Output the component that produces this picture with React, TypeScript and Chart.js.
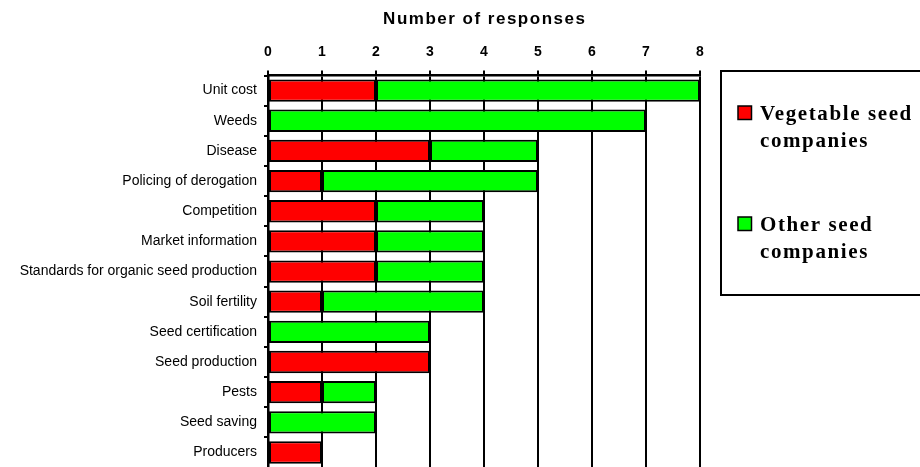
import React, { useEffect, useRef } from "react";
import { Chart, registerables } from "chart.js";

Chart.register(...registerables);

const categories = [
  "Unit cost",
  "Weeds",
  "Disease",
  "Policing of derogation",
  "Competition",
  "Market information",
  "Standards for organic seed production",
  "Soil fertility",
  "Seed certification",
  "Seed production",
  "Pests",
  "Seed saving",
  "Producers",
];
const vegetableSeed = [2, 0, 3, 1, 2, 2, 2, 1, 0, 3, 1, 0, 1];
const otherSeed = [6, 7, 2, 4, 2, 2, 2, 3, 3, 0, 1, 2, 0];
const seriesLabels = ["Vegetable seed companies", "Other seed companies"];
const seriesColors = ["#ff0000", "#00ff00"];
const axisMin = 0;
const axisMax = 8;
const axisTitle = "Number of responses";

const SANS = '"Liberation Sans", Arial, sans-serif';
const SERIF = '"Liberation Serif", "Times New Roman", serif';

const titlePlugin = {
  id: "topTitle",
  afterDraw(chart: any) {
    const ctx = chart.ctx as CanvasRenderingContext2D;
    const { left, right } = chart.chartArea;
    ctx.save();
    ctx.font = `bold 17px ${SANS}`;
    (ctx as any).letterSpacing = "1.5px";
    ctx.fillStyle = "#000";
    ctx.textAlign = "center";
    ctx.textBaseline = "alphabetic";
    ctx.fillText(axisTitle, (left + right) / 2 + 0.75, 24);
    ctx.restore();
  },
};

const boxLegendPlugin = {
  id: "boxLegend",
  afterDraw(chart: any) {
    const ctx = chart.ctx as CanvasRenderingContext2D;
    const boxLeft = 721;
    const boxTop = 71;
    const boxBottom = 295;
    ctx.save();
    ctx.lineWidth = 2;
    ctx.strokeStyle = "#000";
    ctx.strokeRect(boxLeft, boxTop, 400, boxBottom - boxTop);
    ctx.font = `bold 21px ${SERIF}`;
    (ctx as any).letterSpacing = "1.6px";
    ctx.fillStyle = "#000";
    ctx.textAlign = "left";
    ctx.textBaseline = "alphabetic";
    const textX = 760;
    const maxW = 160;
    const firstBaselines = [119.5, 230.5];
    const lineH = 27.5;
    chart.data.datasets.forEach((ds: any, i: number) => {
      const words = String(ds.label).split(" ");
      const lines: string[] = [];
      let cur = "";
      words.forEach((w) => {
        const test = cur ? cur + " " + w : w;
        if (cur && ctx.measureText(test).width > maxW) {
          lines.push(cur);
          cur = w;
        } else cur = test;
      });
      if (cur) lines.push(cur);
      const by = firstBaselines[i];
      ctx.fillStyle = ds.backgroundColor;
      ctx.fillRect(738, by - 13.5, 13.5, 13.5);
      ctx.lineWidth = 1.5;
      ctx.strokeStyle = "#000";
      ctx.strokeRect(738, by - 13.5, 13.5, 13.5);
      ctx.fillStyle = "#000";
      lines.forEach((ln, k) => ctx.fillText(ln, textX, by + k * lineH));
    });
    ctx.restore();
  },
};

export default function App() {
  const ref = useRef<HTMLCanvasElement | null>(null);
  useEffect(() => {
    if (!ref.current) return;
    const chart = new Chart(ref.current, {
      type: "bar",
      data: {
        labels: categories,
        datasets: [
          {
            label: seriesLabels[0],
            data: vegetableSeed,
            backgroundColor: seriesColors[0],
            borderColor: "#000",
            borderWidth: 2,
            borderSkipped: false,
            barPercentage: 0.74,
            categoryPercentage: 1,
          },
          {
            label: seriesLabels[1],
            data: otherSeed,
            backgroundColor: seriesColors[1],
            borderColor: "#000",
            borderWidth: 2,
            borderSkipped: false,
            barPercentage: 0.74,
            categoryPercentage: 1,
          },
        ],
      },
      options: {
        indexAxis: "y",
        responsive: false,
        animation: false,
        layout: { padding: { left: 0, right: 220, top: 0, bottom: 4 } },
        plugins: {
          legend: { display: false },
          tooltip: { enabled: false },
          title: { display: false },
        },
        scales: {
          x: {
            position: "top",
            stacked: true,
            min: axisMin,
            max: axisMax,
            ticks: {
              stepSize: 1,
              color: "#000",
              font: { family: SANS, size: 14, weight: "bold" },
              padding: 10,
            },
            grid: {
              color: "#000",
              lineWidth: 2,
              tickLength: 5,
              drawTicks: true,
            },
            border: { display: true, color: "#000", width: 2.5 },
            afterFit(scale: any) {
              scale.height = 75.5;
            },
          },
          y: {
            stacked: true,
            ticks: {
              color: "#000",
              font: { family: SANS, size: 14 },
              padding: 7,
              autoSkip: false,
            },
            grid: {
              offset: true,
              drawOnChartArea: false,
              drawTicks: true,
              tickLength: 4,
              color: "#000",
              lineWidth: 2,
            },
            border: { display: true, color: "#000", width: 2.5 },
            afterFit(scale: any) {
              scale.width = 268;
            },
          },
        },
      },
      plugins: [titlePlugin, boxLegendPlugin],
    } as any);
    return () => chart.destroy();
  }, []);
  return (
    <div
      style={{
        position: "fixed",
        left: 0,
        top: 0,
        width: 920,
        height: 467,
        overflow: "hidden",
        background: "#fff",
      }}
    >
      <canvas ref={ref} width={920} height={483} style={{ display: "block", width: 920, height: 483 }} />
    </div>
  );
}
